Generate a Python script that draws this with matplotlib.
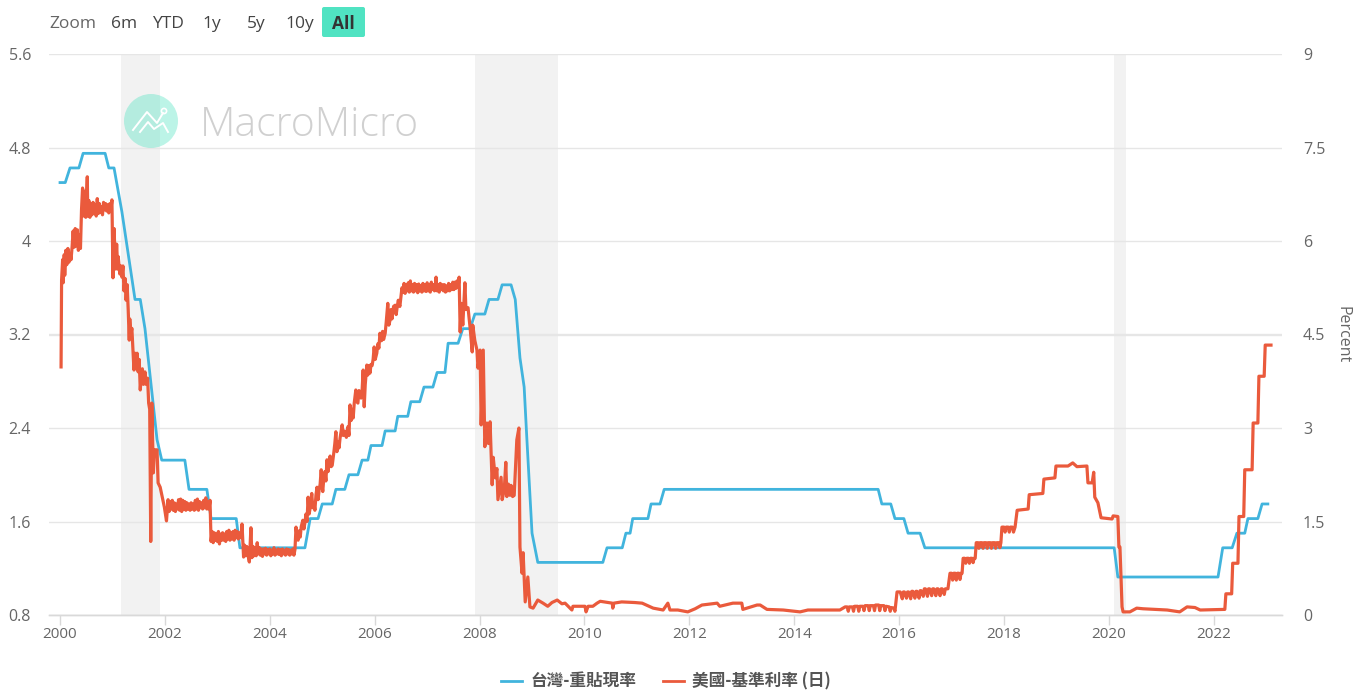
#!/usr/bin/env python3
"""
Taiwan discount rate vs US fed funds rate (MacroMicro style chart)
"""

import matplotlib
matplotlib.use("Agg")
import matplotlib.pyplot as plt
from matplotlib.lines import Line2D
from matplotlib.patches import Circle, FancyBboxPatch
from matplotlib.transforms import IdentityTransform

plt.rcParams["font.family"] = ["Open Sans", "Noto Sans CJK TC", "DejaVu Sans"]

# Config
W, H = 1363, 690
OUT_PNG = "out.png"
BLUE = "#41b4dd"
RED = "#ea5a3c"
GRID = "#e6e6e6"
TEXT = "#666666"

# Taiwan discount rate, left axis
TW_YEARS = [
    2000.00, 2000.10, 2000.19, 2000.36, 2000.44, 2000.86, 2000.93, 2001.03, 2001.18, 2001.43,
    2001.53, 2001.62, 2001.85, 2001.94, 2002.38, 2002.46, 2002.80, 2002.88, 2003.36, 2003.43,
    2004.67, 2004.77, 2004.92, 2005.00, 2005.19, 2005.26, 2005.43, 2005.51, 2005.68, 2005.76,
    2005.87, 2005.93, 2006.14, 2006.20, 2006.39, 2006.44, 2006.63, 2006.69, 2006.86, 2006.94,
    2007.11, 2007.19, 2007.34, 2007.40, 2007.59, 2007.68, 2007.82, 2007.91, 2008.10, 2008.18,
    2008.35, 2008.43, 2008.60, 2008.68, 2008.77, 2008.85, 2008.90, 2009.00, 2009.11, 2010.35,
    2010.43, 2010.72, 2010.79, 2010.87, 2010.92, 2011.21, 2011.27, 2011.44, 2011.52, 2015.60,
    2015.67, 2015.84, 2015.92, 2016.09, 2016.17, 2016.40, 2016.49, 2020.10, 2020.17, 2022.08,
    2022.17, 2022.35, 2022.44, 2022.59, 2022.65, 2022.84, 2022.92, 2023.03,
]
TW_RATES = [
    4.5, 4.5, 4.625, 4.625, 4.75, 4.75, 4.625, 4.625, 4.25, 3.5,
    3.5, 3.25, 2.3, 2.125, 2.125, 1.875, 1.875, 1.625, 1.625, 1.375,
    1.375, 1.625, 1.625, 1.75, 1.75, 1.875, 1.875, 2.0, 2.0, 2.125,
    2.125, 2.25, 2.25, 2.375, 2.375, 2.5, 2.5, 2.625, 2.625, 2.75,
    2.75, 2.875, 2.875, 3.125, 3.125, 3.25, 3.25, 3.375, 3.375, 3.5,
    3.5, 3.625, 3.625, 3.5, 3.0, 2.75, 2.32, 1.5, 1.25, 1.25,
    1.375, 1.375, 1.5, 1.5, 1.625, 1.625, 1.75, 1.75, 1.875, 1.875,
    1.75, 1.75, 1.625, 1.625, 1.5, 1.5, 1.375, 1.375, 1.125, 1.125,
    1.375, 1.375, 1.5, 1.5, 1.625, 1.625, 1.75, 1.75,
]

# US fed funds rate (daily, so it is jagged), right axis, one pair of lists per period
US_YEARS_2000 = [
    2000.02, 2000.03, 2000.05, 2000.06, 2000.08, 2000.09, 2000.11, 2000.13, 2000.15, 2000.17,
    2000.19, 2000.21, 2000.23, 2000.25, 2000.27, 2000.29, 2000.31, 2000.33, 2000.35, 2000.37,
    2000.39, 2000.41, 2000.43, 2000.45, 2000.47, 2000.49, 2000.50, 2000.52, 2000.53, 2000.55,
    2000.57, 2000.59, 2000.61, 2000.63, 2000.65, 2000.67, 2000.69, 2000.71, 2000.73, 2000.75,
    2000.77, 2000.79, 2000.81, 2000.83, 2000.85, 2000.87, 2000.89, 2000.91, 2000.93, 2000.95,
    2000.97, 2000.99, 2001.01, 2001.03, 2001.06, 2001.08, 2001.10, 2001.11, 2001.14, 2001.16,
    2001.18, 2001.20, 2001.22, 2001.24, 2001.26, 2001.28, 2001.30, 2001.32, 2001.33, 2001.35,
    2001.37, 2001.39, 2001.41, 2001.43, 2001.45, 2001.47, 2001.49, 2001.51, 2001.53, 2001.55,
    2001.57, 2001.59, 2001.62, 2001.64, 2001.67, 2001.69, 2001.71, 2001.73, 2001.75, 2001.78,
    2001.80, 2001.85, 2001.87, 2001.91, 2001.95, 2001.99, 2002.03, 2002.06,
]
US_RATES_2000 = [
    3.98, 5.37, 5.70, 5.33, 5.78, 5.45, 5.85, 5.62, 5.88, 5.66,
    5.80, 5.70, 5.90, 6.16, 5.90, 6.20, 5.92, 6.18, 5.85, 6.10,
    5.88, 6.50, 6.85, 6.40, 6.80, 6.38, 6.60, 7.03, 6.40, 6.65,
    6.38, 6.60, 6.42, 6.62, 6.45, 6.58, 6.40, 6.68, 6.44, 6.60,
    6.46, 6.55, 6.42, 6.62, 6.50, 6.60, 6.48, 6.58, 6.45, 6.60,
    6.50, 6.66, 5.41, 6.20, 5.55, 5.95, 5.55, 5.75, 5.47, 5.60,
    5.42, 5.60, 5.20, 5.40, 5.05, 5.30, 4.90, 4.41, 4.75, 4.50,
    4.60, 4.25, 3.93, 4.20, 3.95, 4.20, 3.90, 4.10, 3.61, 3.85,
    3.95, 3.70, 3.90, 3.70, 3.80, 3.40, 3.30, 1.18, 3.40, 2.28,
    2.65, 2.65, 2.12, 2.05, 1.89, 1.73, 1.51, 1.85,
]

US_YEARS_2002 = [
    2002.08, 2002.10, 2002.12, 2002.14, 2002.16, 2002.18, 2002.20, 2002.22, 2002.24, 2002.26,
    2002.28, 2002.30, 2002.32, 2002.34, 2002.36, 2002.38, 2002.40, 2002.42, 2002.44, 2002.46,
    2002.48, 2002.50, 2002.52, 2002.54, 2002.56, 2002.58, 2002.60, 2002.62, 2002.64, 2002.66,
    2002.68, 2002.70, 2002.72, 2002.74, 2002.76, 2002.78, 2002.80, 2002.82, 2002.84, 2002.86,
    2002.88, 2002.90, 2002.92, 2002.94, 2002.96, 2002.98, 2003.00, 2003.02, 2003.04, 2003.06,
    2003.08, 2003.10, 2003.12, 2003.14, 2003.16, 2003.18, 2003.20, 2003.22, 2003.24, 2003.26,
    2003.28, 2003.30, 2003.32, 2003.34, 2003.36, 2003.38, 2003.40, 2003.43, 2003.45, 2003.47,
    2003.50, 2003.52, 2003.54, 2003.56, 2003.58, 2003.61, 2003.64, 2003.66, 2003.68, 2003.70,
    2003.72, 2003.74, 2003.76, 2003.78, 2003.80, 2003.82, 2003.84, 2003.86, 2003.88, 2003.90,
    2003.92, 2003.94, 2003.96, 2003.98, 2004.00, 2004.02, 2004.04, 2004.06, 2004.08, 2004.10,
    2004.12, 2004.14, 2004.16, 2004.18, 2004.20, 2004.22, 2004.24, 2004.26, 2004.28, 2004.30,
    2004.32, 2004.34, 2004.36, 2004.38, 2004.40, 2004.42, 2004.44, 2004.46, 2004.48, 2004.50,
]
US_RATES_2002 = [
    1.66, 1.82, 1.70, 1.84, 1.68, 1.80, 1.66, 1.78, 1.70, 1.85,
    1.68, 1.86, 1.66, 1.84, 1.70, 1.82, 1.68, 1.80, 1.70, 1.78,
    1.68, 1.80, 1.70, 1.78, 1.68, 1.84, 1.70, 1.86, 1.68, 1.82,
    1.72, 1.80, 1.70, 1.84, 1.72, 1.88, 1.70, 1.82, 1.70, 1.84,
    1.18, 1.34, 1.16, 1.32, 1.20, 1.30, 1.18, 1.34, 1.14, 1.30,
    1.20, 1.32, 1.20, 1.30, 1.18, 1.34, 1.22, 1.36, 1.20, 1.32,
    1.22, 1.34, 1.20, 1.36, 1.24, 1.34, 1.22, 1.32, 1.24, 1.46,
    0.93, 1.12, 0.95, 1.10, 0.98, 0.85, 1.40, 0.92, 1.10, 0.95,
    1.08, 0.95, 1.16, 0.98, 1.08, 0.96, 1.06, 0.94, 1.06, 0.98,
    1.07, 0.96, 1.05, 0.98, 1.06, 0.95, 1.04, 0.98, 1.08, 0.96,
    1.04, 0.98, 1.06, 0.97, 1.05, 0.95, 1.06, 0.98, 1.04, 0.96,
    1.06, 0.98, 1.05, 0.96, 1.04, 0.98, 1.06, 0.96, 1.05, 1.41,
]

US_YEARS_2004 = [
    2004.52, 2004.54, 2004.56, 2004.58, 2004.60, 2004.63, 2004.65, 2004.67, 2004.69, 2004.71,
    2004.73, 2004.75, 2004.77, 2004.80, 2004.82, 2004.84, 2004.86, 2004.88, 2004.90, 2004.92,
    2004.94, 2004.96, 2004.98, 2005.00, 2005.01, 2005.03, 2005.05, 2005.07, 2005.09, 2005.11,
    2005.13, 2005.15, 2005.17, 2005.19, 2005.22, 2005.24, 2005.26, 2005.28, 2005.30, 2005.32,
    2005.34, 2005.36, 2005.38, 2005.40, 2005.43, 2005.46, 2005.49, 2005.51, 2005.53, 2005.55,
    2005.57, 2005.59, 2005.61, 2005.64, 2005.66, 2005.68, 2005.70, 2005.72, 2005.74, 2005.76,
    2005.78, 2005.80, 2005.82, 2005.85, 2005.87, 2005.89, 2005.91, 2005.93, 2005.95, 2005.97,
    2005.99, 2006.01, 2006.04, 2006.06, 2006.08, 2006.10, 2006.13, 2006.15, 2006.17, 2006.20,
    2006.22, 2006.25, 2006.27, 2006.29, 2006.31, 2006.33, 2006.36, 2006.39, 2006.41, 2006.43,
    2006.45, 2006.48, 2006.50, 2006.52,
]
US_RATES_2004 = [
    1.25, 1.20, 1.35, 1.25, 1.42, 1.52, 1.38, 1.48, 1.62, 1.50,
    1.89, 1.62, 1.72, 1.95, 1.72, 1.80, 1.68, 1.92, 2.05, 1.85,
    2.00, 2.10, 2.33, 2.05, 1.98, 2.20, 2.30, 2.15, 2.49, 2.30,
    2.45, 2.55, 2.38, 2.40, 2.60, 2.75, 2.94, 2.62, 2.78, 2.68,
    2.84, 2.95, 3.05, 2.88, 2.95, 2.85, 3.02, 2.88, 3.37, 3.12,
    3.30, 3.16, 3.40, 3.61, 3.42, 3.40, 3.60, 3.58, 3.48, 3.60,
    3.93, 3.34, 3.70, 4.01, 3.85, 4.00, 3.88, 4.02, 4.00, 4.10,
    4.30, 4.10, 4.20, 4.35, 4.28, 4.52, 4.40, 4.55, 4.42, 4.52,
    4.70, 5.00, 4.65, 4.72, 4.90, 4.75, 4.95, 4.97, 4.82, 4.95,
    5.05, 4.95, 5.10, 5.25,
]

US_YEARS_2006 = [
    2006.54, 2006.56, 2006.58, 2006.60, 2006.62, 2006.64, 2006.66, 2006.68, 2006.70, 2006.72,
    2006.74, 2006.76, 2006.78, 2006.80, 2006.82, 2006.84, 2006.86, 2006.88, 2006.90, 2006.92,
    2006.94, 2006.96, 2006.98, 2007.00, 2007.02, 2007.04, 2007.06, 2007.08, 2007.10, 2007.12,
    2007.14, 2007.16, 2007.17, 2007.19, 2007.21, 2007.23, 2007.25, 2007.27, 2007.29, 2007.31,
    2007.33, 2007.35, 2007.37, 2007.39, 2007.41, 2007.43, 2007.45, 2007.47, 2007.49, 2007.51,
    2007.53, 2007.55, 2007.57, 2007.59, 2007.61,
]
US_RATES_2006 = [
    5.18, 5.32, 5.16, 5.30, 5.20, 5.33, 5.18, 5.36, 5.20, 5.30,
    5.18, 5.32, 5.20, 5.30, 5.17, 5.31, 5.20, 5.28, 5.18, 5.32,
    5.20, 5.30, 5.19, 5.33, 5.20, 5.30, 5.18, 5.34, 5.22, 5.30,
    5.20, 5.32, 5.42, 5.20, 5.30, 5.18, 5.32, 5.22, 5.30, 5.20,
    5.30, 5.18, 5.28, 5.20, 5.32, 5.20, 5.30, 5.22, 5.34, 5.22,
    5.34, 5.24, 5.36, 5.26, 5.42,
]

US_YEARS_2007 = [
    2007.63, 2007.65, 2007.68, 2007.72, 2007.74, 2007.78, 2007.82, 2007.86, 2007.87, 2007.91,
    2007.95, 2007.97, 2008.01, 2008.03, 2008.07, 2008.10, 2008.14, 2008.17, 2008.20, 2008.24,
    2008.26, 2008.30, 2008.33, 2008.35, 2008.41, 2008.43, 2008.47, 2008.50, 2008.52, 2008.55,
    2008.58, 2008.60, 2008.63, 2008.66, 2008.71, 2008.75, 2008.77, 2008.81, 2008.83, 2008.87,
    2008.92, 2008.96, 2009.02, 2009.11, 2009.21, 2009.30, 2009.38, 2009.48, 2009.57,
]
US_RATES_2007 = [
    4.54, 5.00, 4.65, 5.33, 4.90, 4.93, 4.60, 4.22, 4.65, 4.40,
    4.25, 3.96, 4.25, 3.05, 4.25, 2.70, 3.08, 2.75, 3.10, 2.09,
    2.53, 2.20, 2.35, 1.85, 2.21, 1.85, 2.00, 2.45, 1.90, 2.10,
    1.92, 2.08, 1.90, 1.92, 2.81, 3.00, 1.09, 0.67, 1.00, 0.21,
    0.61, 0.13, 0.11, 0.24, 0.19, 0.14, 0.20, 0.24, 0.18,
]

US_YEARS_2009 = [
    2009.63, 2009.76, 2009.78, 2010.01, 2010.03, 2010.07, 2010.16, 2010.24, 2010.30, 2010.53,
    2010.54, 2010.56, 2010.71, 2010.96, 2011.10, 2011.31, 2011.50, 2011.59, 2011.63, 2011.78,
    2011.97, 2012.11, 2012.24, 2012.53, 2012.58, 2012.83, 2013.00, 2013.02, 2013.29, 2013.35,
    2013.48, 2013.79, 2014.11, 2014.26, 2014.49, 2014.87, 2014.97, 2015.01, 2015.03, 2015.05,
    2015.11, 2015.13, 2015.15, 2015.21, 2015.23, 2015.25, 2015.31, 2015.33, 2015.35, 2015.41,
    2015.43, 2015.45, 2015.51, 2015.53, 2015.55, 2015.61, 2015.63, 2015.65, 2015.71, 2015.73,
    2015.75, 2015.81, 2015.83, 2015.85, 2015.90, 2015.92,
]
US_RATES_2009 = [
    0.19, 0.08, 0.14, 0.14, 0.05, 0.14, 0.14, 0.19, 0.22, 0.19,
    0.11, 0.19, 0.21, 0.20, 0.19, 0.11, 0.08, 0.19, 0.08, 0.08,
    0.05, 0.10, 0.16, 0.19, 0.14, 0.19, 0.19, 0.09, 0.16, 0.16,
    0.09, 0.08, 0.05, 0.08, 0.08, 0.08, 0.13, 0.13, 0.06, 0.13,
    0.13, 0.06, 0.14, 0.14, 0.06, 0.14, 0.14, 0.07, 0.15, 0.15,
    0.07, 0.15, 0.15, 0.07, 0.16, 0.16, 0.07, 0.15, 0.15, 0.07,
    0.14, 0.13, 0.06, 0.12, 0.11, 0.06,
]

US_YEARS_2016 = [
    2015.96, 2016.02, 2016.06, 2016.08, 2016.10, 2016.14, 2016.16, 2016.18, 2016.22, 2016.24,
    2016.26, 2016.30, 2016.32, 2016.34, 2016.38, 2016.40, 2016.42, 2016.46, 2016.48, 2016.50,
    2016.54, 2016.56, 2016.58, 2016.62, 2016.64, 2016.66, 2016.70, 2016.72, 2016.74, 2016.78,
    2016.80, 2016.82, 2016.86, 2016.88, 2016.90, 2016.93, 2016.97, 2017.00, 2017.02, 2017.04,
    2017.07, 2017.09, 2017.11, 2017.14, 2017.16, 2017.18, 2017.20, 2017.22, 2017.25, 2017.27,
    2017.29, 2017.32, 2017.34, 2017.36, 2017.39, 2017.41, 2017.43, 2017.45, 2017.47, 2017.50,
    2017.52, 2017.54, 2017.58, 2017.60, 2017.62, 2017.66, 2017.68, 2017.70, 2017.74, 2017.76,
    2017.78, 2017.82, 2017.84, 2017.86, 2017.90, 2017.92, 2017.94, 2017.96, 2018.00, 2018.02,
    2018.04, 2018.08, 2018.10, 2018.12, 2018.16, 2018.18, 2018.21,
]
US_RATES_2016 = [
    0.37, 0.37, 0.26, 0.37, 0.37, 0.27, 0.37, 0.37, 0.26, 0.38,
    0.38, 0.27, 0.38, 0.38, 0.27, 0.39, 0.39, 0.30, 0.42, 0.42,
    0.30, 0.42, 0.42, 0.31, 0.42, 0.42, 0.31, 0.42, 0.42, 0.31,
    0.42, 0.42, 0.33, 0.42, 0.42, 0.42, 0.67, 0.67, 0.56, 0.67,
    0.67, 0.56, 0.67, 0.67, 0.57, 0.67, 0.67, 0.91, 0.91, 0.83,
    0.91, 0.91, 0.83, 0.91, 0.91, 0.84, 0.91, 0.91, 1.16, 1.16,
    1.07, 1.16, 1.16, 1.07, 1.16, 1.16, 1.07, 1.16, 1.16, 1.07,
    1.16, 1.16, 1.07, 1.16, 1.16, 1.08, 1.16, 1.41, 1.41, 1.33,
    1.41, 1.41, 1.33, 1.41, 1.41, 1.33, 1.41,
]

US_YEARS_2018 = [
    2018.25, 2018.46, 2018.48, 2018.74, 2018.76, 2018.97, 2018.99, 2019.22, 2019.31, 2019.39,
    2019.58, 2019.60, 2019.68, 2019.71, 2019.73, 2019.79, 2019.85, 2020.06, 2020.08, 2020.17,
    2020.19, 2020.21, 2020.25, 2020.27, 2020.40, 2020.53, 2020.65, 2021.11, 2021.35, 2021.49,
    2021.64, 2021.74, 2022.21, 2022.23, 2022.34, 2022.36, 2022.46, 2022.48, 2022.57, 2022.59,
    2022.73, 2022.75, 2022.84, 2022.86, 2022.96, 2022.98, 2023.09,
]
US_RATES_2018 = [
    1.68, 1.70, 1.93, 1.95, 2.18, 2.20, 2.39, 2.39, 2.44, 2.38,
    2.39, 2.12, 2.12, 2.29, 1.89, 1.80, 1.56, 1.54, 1.59, 1.58,
    1.09, 1.09, 0.13, 0.05, 0.05, 0.11, 0.10, 0.08, 0.05, 0.13,
    0.12, 0.08, 0.09, 0.34, 0.34, 0.83, 0.83, 1.58, 1.58, 2.33,
    2.33, 3.08, 3.08, 3.83, 3.83, 4.33, 4.33,
]

# Recession bands
RECESSION_STARTS = [2001.16, 2007.91, 2020.10]
RECESSION_ENDS = [2001.91, 2009.50, 2020.33]

# Axis ticks
X_TICKS = [2000, 2002, 2004, 2006, 2008, 2010, 2012, 2014, 2016, 2018, 2020, 2022]
LEFT_TICKS = [0.8, 1.6, 2.4, 3.2, 4, 4.8, 5.6]
RIGHT_TICKS = [0, 1.5, 3, 4.5, 6, 7.5, 9]

# Range selector text
ZOOM_LABELS = ["6m", "YTD", "1y", "5y", "10y"]
ZOOM_CENTERS = [124, 168, 212, 256, 300]


def fx(px):
    return px / W


def fy(py):
    return 1 - py / H


def draw_rates(ax, ax2):
    for start, end in zip(RECESSION_STARTS, RECESSION_ENDS):
        ax.axvspan(start, end, color="#f2f2f2", lw=0, zorder=0)

    ax.plot(TW_YEARS, TW_RATES, color=BLUE, lw=2.0, solid_joinstyle="round", zorder=3)

    us_years = (US_YEARS_2000 + US_YEARS_2002 + US_YEARS_2004 + US_YEARS_2006
                + US_YEARS_2007 + US_YEARS_2009 + US_YEARS_2016 + US_YEARS_2018)
    us_rates = (US_RATES_2000 + US_RATES_2002 + US_RATES_2004 + US_RATES_2006
                + US_RATES_2007 + US_RATES_2009 + US_RATES_2016 + US_RATES_2018)
    ax2.plot(us_years, us_rates, color=RED, lw=2.3, solid_joinstyle="round", zorder=3)


def style_axes(ax, ax2):
    ax.set_xlim(1999.79, 2023.30)
    ax.set_ylim(0.8, 5.6)
    ax2.set_ylim(0, 9)

    ax.set_xticks(X_TICKS)
    ax.set_yticks(LEFT_TICKS)
    ax.set_yticklabels([f"{v:g}" for v in LEFT_TICKS])
    ax2.set_yticks(RIGHT_TICKS)
    ax2.set_yticklabels([f"{v:g}" for v in RIGHT_TICKS])

    ax.grid(axis="y", color=GRID, lw=1.0, zorder=1)
    ax.get_ygridlines()[3].set_linewidth(1.7)
    ax.set_axisbelow(True)
    ax2.patch.set_visible(False)

    for a in (ax, ax2):
        for side in ("top", "left", "right"):
            a.spines[side].set_visible(False)
        a.spines["bottom"].set_color("#d9d9d9")
        a.spines["bottom"].set_linewidth(1.0)

    ax.tick_params(axis="x", length=7, width=1, color="#d9d9d9", labelcolor=TEXT,
                   labelsize=11, pad=2)
    ax.tick_params(axis="y", length=0, labelcolor=TEXT, labelsize=11.5, pad=13)
    ax2.tick_params(axis="y", length=0, labelcolor=TEXT, labelsize=11.5, pad=15)


def draw_watermark(fig):
    px = IdentityTransform()
    fig.add_artist(Circle((151, H - 121), 27, transform=px, facecolor="#4fe3c1",
                          alpha=0.38, lw=0, zorder=5))
    fig.add_artist(Line2D([133, 147, 157, 163], [H - 130, H - 112, H - 123, H - 113],
                          transform=px, color="white", lw=1.4, zorder=6))
    fig.add_artist(Line2D([140, 148, 154, 163, 168], [H - 132, H - 122, H - 129, H - 123, H - 132],
                          transform=px, color="white", lw=1.4, zorder=6))
    fig.add_artist(Circle((164, H - 111), 2.6, transform=px, facecolor="none",
                          edgecolor="white", lw=1.2, zorder=6))
    fig.text(fx(200), fy(125), "MacroMicro", fontsize=29.5, color="#d0d0d0", family="Open Sans",
             fontweight="light", ha="left", va="center", zorder=5)


def draw_range_selector(fig):
    fig.text(fx(49), fy(24), "Zoom", fontsize=12.5, color=TEXT, ha="left", va="center")
    for label, center in zip(ZOOM_LABELS, ZOOM_CENTERS):
        fig.text(fx(center), fy(24), label, fontsize=12.5, color="#444444", ha="center", va="center")

    fig.add_artist(FancyBboxPatch((324, H - 35), 39, 26, boxstyle="round,pad=2,rounding_size=2",
                                  transform=IdentityTransform(), facecolor="#50e3c2", lw=0, zorder=5))
    fig.text(fx(343.5), fy(24), "All", fontsize=12.5, fontweight="bold", color="#333333",
             ha="center", va="center", zorder=6)


def draw_legend(fig):
    for x0, x1, color in ((501, 522, BLUE), (663, 684, RED)):
        fig.add_artist(Line2D([fx(x0), fx(x1)], [fy(681), fy(681)], color=color, lw=2.0))
    legend_font = ["Noto Sans CJK TC", "DejaVu Sans"]
    fig.text(fx(530), fy(681), "台灣-重貼現率", fontsize=12, fontweight="bold", color="#555555",
             family=legend_font, ha="left", va="center")
    fig.text(fx(692), fy(681), "美國-基準利率 (日)", fontsize=12, fontweight="bold", color="#555555",
             family=legend_font, ha="left", va="center")


def main():
    fig = plt.figure(figsize=(W / 100, H / 100), dpi=100)
    ax = fig.add_axes([fx(49), fy(615), (1282 - 49) / W, (615 - 54) / H])
    ax2 = ax.twinx()

    draw_rates(ax, ax2)
    style_axes(ax, ax2)
    draw_watermark(fig)
    draw_range_selector(fig)
    draw_legend(fig)

    fig.text(fx(1342), fy(335), "Percent", rotation=-90, fontsize=11.5, color=TEXT,
             ha="center", va="center")

    fig.savefig(OUT_PNG, dpi=100)
    plt.close(fig)


if __name__ == "__main__":
    main()
